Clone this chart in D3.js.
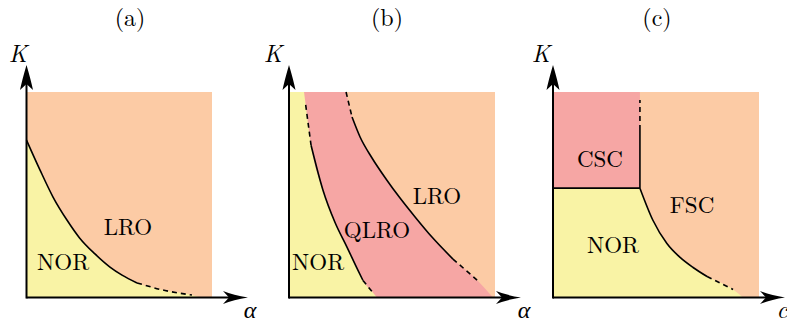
<!DOCTYPE html>
<html>
<head>
<meta charset="utf-8">
<script src="https://cdn.jsdelivr.net/npm/d3@7"></script>
<style>
  body { margin: 0; background: #fff; }
</style>
</head>
<body>
<svg id="chart" width="787" height="327"></svg>
<script>
// ---- data (unit square per panel: x from 0 to 1, K from 0 to 1) ----
const panelTitles = ["(a)", "(b)", "(c)"];
const xAxisLabels = ["α", "α", "c"];
const yAxisLabel = "K";

// (a) NOR / LRO boundary
const aSolid = [[0, 0.766], [0.073, 0.62], [0.143, 0.489], [0.218, 0.377], [0.286, 0.29], [0.369, 0.212], [0.45, 0.148], [0.515, 0.109], [0.596, 0.071]];
const aDashed = [[0.596, 0.071], [0.747, 0.034], [0.892, 0.012]];
const aEnd = [0.935, 0];

// (b) NOR / QLRO boundary
const bLeftTop = [0.073, 1];
const bLeftDashedTop = [[0.081, 0.937], [0.107, 0.741]];
const bLeftSolid = [[0.107, 0.741], [0.165, 0.522], [0.223, 0.366], [0.282, 0.244], [0.335, 0.132], [0.359, 0.083]];
const bLeftDashedBottom = [[0.359, 0.083], [0.403, 0.029]];
const bLeftEnd = [0.427, 0];

// (b) QLRO / LRO boundary
const bRightDashedTop = [[0.277, 1], [0.306, 0.878]];
const bRightSolid = [[0.306, 0.878], [0.345, 0.781], [0.403, 0.679], [0.471, 0.577], [0.539, 0.484], [0.612, 0.392], [0.694, 0.294], [0.796, 0.187]];
const bRightDashedBottom = [[0.796, 0.187], [0.913, 0.085]];
const bRightEnd = [0.99, 0];

// (c) CSC box and NOR / FSC boundary
const cCscCorner = [0.422, 0.532];
const cWallSolid = [[0.422, 0.532], [0.422, 0.815]];
const cWallDashed = [[0.422, 0.815], [0.422, 0.961]];
const cSolid = [[0.422, 0.532], [0.485, 0.376], [0.553, 0.263], [0.617, 0.195], [0.68, 0.146], [0.748, 0.102]];
const cDashed = [[0.748, 0.102], [0.874, 0.039]];
const cEnd = [0.922, 0];

// region labels: [text, x, K]
const aLabels = [["LRO", 0.547, 0.304], ["NOR", 0.197, 0.134]];
const bLabels = [["LRO", 0.718, 0.454], ["QLRO", 0.427, 0.29], ["NOR", 0.141, 0.134]];
const cLabels = [["CSC", 0.228, 0.637], ["FSC", 0.675, 0.411], ["NOR", 0.291, 0.216]];

// ---- layout ----
const colors = { lro: "#fccba5", nor: "#f9f3a5", qlro: "#f6a6a4" };
const serif = '"Latin Modern Roman", "Liberation Serif", serif';
const yBottom = 297.5, yTop = 92, yTip = 65;
const layout = [
  { x0: 26.5, x1: 212, tip: 248, title: 130, kx: 18, ax: 250 },
  { x0: 289, x1: 495, tip: 521, title: 387, kx: 273, ax: 524 },
  { x0: 553, x1: 759, tip: 785, title: 657, kx: 541, ax: 782 }
];

const svg = d3.select("#chart");

function arrowHead(g, x, y, dir) {
  // stealth-like head, dir "up" or "right"
  const L = 25, w = 6.5, n = 19;
  const pts = dir === "right"
    ? [[x, y], [x - L, y - w], [x - n, y], [x - L, y + w]]
    : [[x, y], [x - w, y + L], [x, y + n], [x + w, y + L]];
  g.append("path")
    .attr("d", `M${pts[0]} Q${(pts[0][0] + pts[1][0]) / 2 + (dir === "right" ? -2 : -1)},${(pts[0][1] + pts[1][1]) / 2 + (dir === "right" ? 1 : 2)} ${pts[1]} L${pts[2]} L${pts[3]} Q${(pts[0][0] + pts[3][0]) / 2 + (dir === "right" ? -2 : 1)},${(pts[0][1] + pts[3][1]) / 2 + (dir === "right" ? -1 : 2)} ${pts[0]} Z`)
    .attr("fill", "#000");
}

function label(g, x, y, size, txt, italic) {
  g.append("text")
    .attr("x", x).attr("y", y)
    .attr("text-anchor", "middle")
    .style("font-family", serif)
    .style("font-size", size + "px")
    .style("font-style", italic ? "italic" : "normal")
    .style("fill", "#000")
    .text(txt);
}

function drawPanel(i, regions, lines, labels) {
  const L = layout[i];
  const x = d3.scaleLinear().domain([0, 1]).range([L.x0, L.x1]);
  const y = d3.scaleLinear().domain([0, 1]).range([yBottom, yTop]);
  const smooth = d3.line().x(d => x(d[0])).y(d => y(d[1])).curve(d3.curveMonotoneX);
  const straight = d3.line().x(d => x(d[0])).y(d => y(d[1]));
  const curve = pts => (pts.length < 3 ? straight(pts) : smooth(pts));
  const g = svg.append("g");

  // background = top-right region
  g.append("rect")
    .attr("x", x(0)).attr("y", y(1))
    .attr("width", x(1) - x(0)).attr("height", y(0) - y(1))
    .attr("fill", colors.lro);

  regions.forEach(r => {
    g.append("path").attr("d", r.d(x, y, curve)).attr("fill", r.fill);
  });

  lines.forEach(l => {
    g.append("path")
      .attr("d", curve(l.pts))
      .attr("fill", "none")
      .attr("stroke", "#000")
      .attr("stroke-width", 1.6)
      .attr("stroke-dasharray", l.dash ? "5,4" : null);
  });

  labels.forEach(t => label(g, x(t[1]), y(t[2]), 23, t[0], false));

  // axes
  g.append("line").attr("x1", L.x0).attr("y1", yBottom).attr("x2", L.tip - 10).attr("y2", yBottom)
    .attr("stroke", "#000").attr("stroke-width", 2);
  g.append("line").attr("x1", L.x0).attr("y1", yBottom + 1).attr("x2", L.x0).attr("y2", yTip + 10)
    .attr("stroke", "#000").attr("stroke-width", 2);
  arrowHead(g, L.tip, yBottom, "right");
  arrowHead(g, L.x0, yTip, "up");

  label(g, L.kx, 62, 24, yAxisLabel, true);
  label(g, L.ax, 318, 24, xAxisLabels[i], true);
  label(g, L.title, 26, 24, panelTitles[i], false);
}

// join helper: corners (straight) followed by a curved run
function shape(corners, run, x, y, curve) {
  let d = "M" + corners.map(p => [x(p[0]), y(p[1])]).join("L");
  d += curve(run).replace(/^M/, "L");
  return d + "Z";
}

// (a)
const aBoundary = aSolid.concat(aDashed.slice(1), [aEnd]);
drawPanel(0,
  [{ fill: colors.nor, d: (x, y, c) => shape([[0, 0]], aBoundary, x, y, c) }],
  [{ pts: aSolid }, { pts: aDashed, dash: true }],
  aLabels);

// (b): QLRO fills everything below the right boundary, NOR is laid over it
const bLeft = [bLeftTop].concat(bLeftDashedTop, bLeftSolid.slice(1), bLeftDashedBottom.slice(1), [bLeftEnd]);
const bRight = bRightDashedTop.concat(bRightSolid.slice(1), bRightDashedBottom.slice(1), [bRightEnd]);
drawPanel(1,
  [
    { fill: colors.qlro, d: (x, y, c) => shape([[0, 0], [0, 1]], bRight, x, y, c) },
    { fill: colors.nor, d: (x, y, c) => shape([[0, 0], [0, 1]], bLeft, x, y, c) }
  ],
  [
    { pts: bLeftDashedTop, dash: true }, { pts: bLeftSolid }, { pts: bLeftDashedBottom, dash: true },
    { pts: bRightDashedTop, dash: true }, { pts: bRightSolid }, { pts: bRightDashedBottom, dash: true }
  ],
  bLabels);

// (c)
const cBoundary = cSolid.concat(cDashed.slice(1), [cEnd]);
drawPanel(2,
  [
    { fill: colors.qlro, d: (x, y, c) => shape([[0, cCscCorner[1]], [0, 1], [cCscCorner[0], 1]], [cCscCorner], x, y, c) },
    { fill: colors.nor, d: (x, y, c) => shape([[0, 0], [0, cCscCorner[1]]], cBoundary, x, y, c) }
  ],
  [
    { pts: [[0, cCscCorner[1]], cCscCorner] },
    { pts: cWallSolid }, { pts: cWallDashed, dash: true },
    { pts: cSolid }, { pts: cDashed, dash: true }
  ],
  cLabels);
</script>
</body>
</html>
